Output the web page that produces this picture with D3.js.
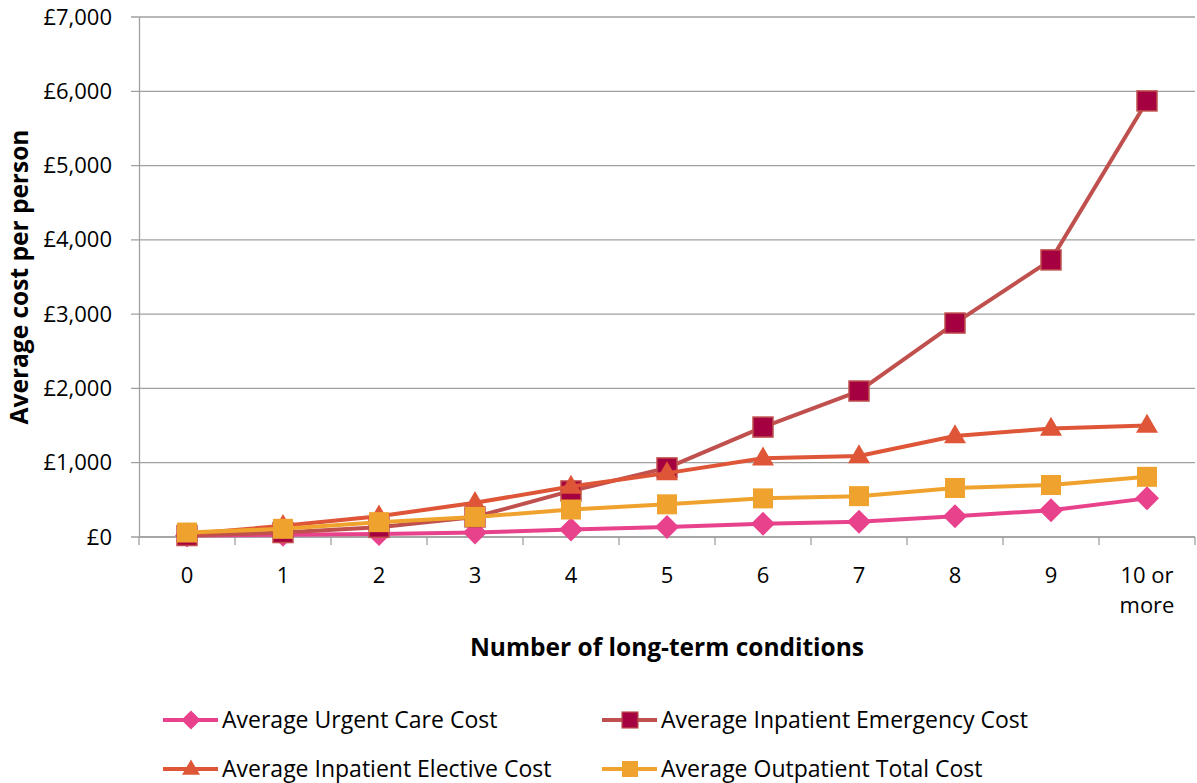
<!DOCTYPE html>
<html>
<head>
<meta charset="utf-8">
<script src="https://cdn.jsdelivr.net/npm/d3@7"></script>
<style>
  body { margin: 0; background: #fff; }
  text { font-family: "Open Sans", Lato, sans-serif; fill: #000; }
</style>
</head>
<body>
<div id="chart"></div>
<script>
// categories and tick labels
var categories = ["0", "1", "2", "3", "4", "5", "6", "7", "8", "9", "10 or more"];
var yTicks = [0, 1000, 2000, 3000, 4000, 5000, 6000, 7000];

// series values
var urgentCare = [20, 30, 40, 60, 100, 135, 180, 205, 280, 360, 520];
var inpatientEmergency = [20, 60, 130, 270, 620, 930, 1480, 1965, 2880, 3730, 5870];
var inpatientElective = [40, 150, 280, 460, 680, 860, 1060, 1090, 1360, 1460, 1500];
var outpatientTotal = [60, 110, 200, 270, 370, 440, 520, 550, 660, 700, 810];

var series = [
  {name: "Average Urgent Care Cost", values: urgentCare, line: "#e9428d", fill: "#e9428d", stroke: "none", shape: "diamond"},
  {name: "Average Inpatient Emergency Cost", values: inpatientEmergency, line: "#c0504d", fill: "#a50040", stroke: "#c0504d", shape: "square"},
  {name: "Average Inpatient Elective Cost", values: inpatientElective, line: "#de5637", fill: "#de5637", stroke: "none", shape: "triangle"},
  {name: "Average Outpatient Total Cost", values: outpatientTotal, line: "#f0a22e", fill: "#f0a22e", stroke: "none", shape: "square"}
];

var W = 1197, H = 783;
var mLeft = 139, mRight = 1195, mTop = 17, mBottom = 537;

var svg = d3.select("#chart").append("svg")
    .attr("width", W)
    .attr("height", H);

var x = d3.scaleBand().domain(categories).range([mLeft, mRight]);
var y = d3.scaleLinear().domain([0, 7000]).range([mBottom, mTop]);

// gridlines
svg.append("g").selectAll("line")
  .data(yTicks)
  .enter().append("line")
    .attr("x1", mLeft - 8).attr("x2", mRight)
    .attr("y1", function(d) { return y(d); })
    .attr("y2", function(d) { return y(d); })
    .attr("stroke", "#a0a0a0")
    .attr("stroke-width", 1.3);

// y axis
var yAxis = d3.axisLeft(y).tickValues(yTicks).tickSize(0).tickPadding(27)
    .tickFormat(function(d) { return "£" + d3.format(",")(d); });
var gy = svg.append("g").attr("transform", "translate(" + mLeft + ",0)").call(yAxis);
gy.select(".domain").attr("stroke", "#a0a0a0").attr("stroke-width", 1.3);
gy.selectAll("text").style("font-size", "22px").style("font-family", "'Open Sans', sans-serif").attr("fill", "#000");

// x axis
svg.append("line")
  .attr("x1", mLeft).attr("x2", mRight)
  .attr("y1", mBottom).attr("y2", mBottom)
  .attr("stroke", "#a0a0a0").attr("stroke-width", 1.3);
var bounds = categories.map(function(c) { return x(c); }).concat([mRight]);
svg.append("g").selectAll("line")
  .data(bounds)
  .enter().append("line")
    .attr("x1", function(d) { return d; })
    .attr("x2", function(d) { return d; })
    .attr("y1", mBottom).attr("y2", mBottom + 8)
    .attr("stroke", "#a0a0a0").attr("stroke-width", 1.3);

var xl = svg.append("g").selectAll("text")
  .data(categories)
  .enter().append("text")
    .attr("x", function(d) { return x(d) + x.bandwidth() / 2; })
    .attr("y", 583)
    .attr("text-anchor", "middle")
    .style("font-size", "22px");
xl.each(function(d) {
  var t = d3.select(this);
  if (d === "10 or more") {
    t.append("tspan").attr("x", x(d) + x.bandwidth() / 2).attr("dy", 0).text("10 or");
    t.append("tspan").attr("x", x(d) + x.bandwidth() / 2).attr("dy", 30).text("more");
  } else {
    t.text(d);
  }
});

// axis titles
svg.append("text")
  .attr("x", 667).attr("y", 656)
  .attr("text-anchor", "middle")
  .style("font-size", "24.5px").style("font-weight", "bold")
  .text("Number of long-term conditions");

svg.append("text")
  .attr("transform", "translate(28,277) rotate(-90)")
  .attr("text-anchor", "middle")
  .style("font-size", "24.5px").style("font-weight", "bold")
  .text("Average cost per person");

// markers
function marker(sel, shape, size) {
  if (shape === "square") {
    sel.append("rect").attr("x", -size / 2).attr("y", -size / 2).attr("width", size).attr("height", size);
  } else if (shape === "diamond") {
    var r = size * 0.6;
    sel.append("path").attr("d", "M0," + (-r) + "L" + r + ",0L0," + r + "L" + (-r) + ",0Z");
  } else {
    var h = size * 0.95;
    sel.append("path").attr("d", "M0," + (-h * 0.62) + "L" + (size / 2 + 1) + "," + (h * 0.38) + "L" + (-size / 2 - 1) + "," + (h * 0.38) + "Z");
  }
}

var line = d3.line()
  .x(function(d, i) { return x(categories[i]) + x.bandwidth() / 2; })
  .y(function(d) { return y(d); });

series.forEach(function(s) {
  var g = svg.append("g");
  g.append("path")
    .attr("d", line(s.values))
    .attr("fill", "none")
    .attr("stroke", s.line)
    .attr("stroke-width", 4)
    .attr("stroke-linejoin", "round");
  g.selectAll("g.pt")
    .data(s.values)
    .enter().append("g")
      .attr("class", "pt")
      .attr("transform", function(d, i) {
        return "translate(" + (x(categories[i]) + x.bandwidth() / 2) + "," + y(d) + ")";
      })
      .each(function() {
        var m = d3.select(this);
        marker(m, s.shape, 20);
        m.selectAll("rect,path")
          .attr("fill", s.fill)
          .attr("stroke", s.stroke)
          .attr("stroke-width", s.stroke === "none" ? 0 : 1.5);
      });
});

// legend
var legendPos = [[163, 720], [602, 720], [163, 769], [602, 769]];
series.forEach(function(s, i) {
  var p = legendPos[i];
  var g = svg.append("g").attr("transform", "translate(" + p[0] + "," + p[1] + ")");
  g.append("line").attr("x1", 0).attr("x2", 55).attr("y1", 0).attr("y2", 0)
    .attr("stroke", s.line).attr("stroke-width", 4);
  var m = g.append("g").attr("transform", "translate(28,0)");
  marker(m, s.shape, 16);
  m.selectAll("rect,path")
    .attr("fill", s.fill)
    .attr("stroke", s.stroke)
    .attr("stroke-width", s.stroke === "none" ? 0 : 1.2);
  g.append("text").attr("x", 59).attr("y", 8)
    .style("font-size", "23px")
    .text(s.name);
});
</script>
</body>
</html>
